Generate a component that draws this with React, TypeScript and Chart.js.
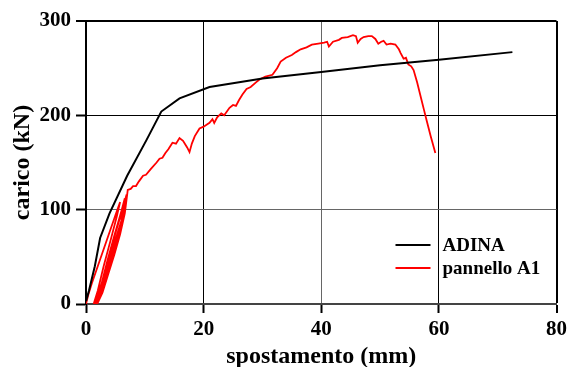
import React, { useEffect, useRef } from "react";
import { Chart, registerables } from "chart.js";

Chart.register(...registerables);

const xTicks = [0, 20, 40, 60, 80];
const yTicks = [0, 100, 200, 300];

const adinaX = [0, 0.5, 1.5, 2.4, 4, 7, 10.3, 12.8, 15.9, 21, 30, 40, 50, 60, 72.5];
const adinaY = [3, 14, 40, 70, 96, 136, 174, 204, 218, 230, 239, 246, 253, 259, 267];

const pannelloX = [
  0, 0.4, 1, 2, 3, 4, 5, 5.8,
  5.2, 4.2, 3, 2, 1.3,
  2, 3, 4, 5, 6, 6.6,
  6, 4.8, 3.6, 2.5, 1.6,
  2.4, 3.4, 4.4, 5.4, 6.4, 6.9,
  6.3, 5, 3.8, 2.7, 1.9,
  2.8, 3.8, 4.8, 5.8, 6.6, 7.1,
  7.6, 8, 8.5, 9, 9.7, 10.2, 11, 12, 12.5, 13, 13.5, 14, 14.7, 15.3, 15.9, 16.5, 17.2, 17.6,
  18, 18.5, 19.3, 20, 20.5, 21, 21.5, 21.8, 22.3, 23, 23.5, 24.4, 25, 25.5, 26, 26.6, 27.3, 28,
  28.9, 29.5, 30.5, 31.7, 32.5, 33.1, 34, 35, 35.7, 36.5, 37.5, 38.4, 39.5, 40.5, 41, 41.3, 42,
  43, 43.5, 44.5, 45.4, 45.9, 46.2, 46.7, 47.2, 48, 48.6, 49.2, 49.7, 50.2, 50.6, 51.1, 51.8,
  52.6, 53.2, 53.5, 54, 54.4, 54.8, 55.3, 55.7, 56.3, 56.9, 57.5, 57.9, 58.6, 59.4,
];
const pannelloY = [
  0, 10, 22, 40, 58, 76, 94, 108,
  92, 68, 40, 14, 0,
  10, 28, 48, 68, 88, 112,
  98, 72, 45, 18, 0,
  10, 30, 50, 70, 92, 116,
  102, 75, 48, 20, 0,
  12, 32, 52, 74, 96, 121,
  122, 125, 125, 130, 136, 137, 143, 150, 154, 155, 160, 164, 171, 170, 176, 173, 166, 161,
  170, 178, 186, 188, 190, 192, 196, 192, 198, 202, 200, 208, 211, 210, 216, 222, 228, 230,
  235, 238, 241, 243, 250, 257, 261, 264, 267, 270, 272, 275, 276, 277, 278, 273, 278,
  280, 282, 283, 285, 284, 277, 281, 283, 284, 284, 281, 276, 278, 279, 275, 276,
  275, 270, 266, 260, 261, 254, 252, 248, 235, 220, 205, 195, 178, 160,
];

const FONT = "'Liberation Serif', 'Times New Roman', serif";

const legendPlugin = {
  id: "insideLegend",
  afterDraw(chart: any) {
    const { ctx, chartArea } = chart;
    const x0 = chartArea.right - 161;
    const x1 = chartArea.right - 126;
    const rows = [chartArea.bottom - 59, chartArea.bottom - 36];
    ctx.save();
    chart.data.datasets.forEach((ds: any, i: number) => {
      const y = rows[i];
      ctx.strokeStyle = ds.borderColor;
      ctx.lineWidth = 2;
      ctx.beginPath();
      ctx.moveTo(x0, y);
      ctx.lineTo(x1, y);
      ctx.stroke();
      ctx.fillStyle = "#000";
      ctx.font = `bold 19px ${FONT}`;
      ctx.textBaseline = "middle";
      ctx.textAlign = "left";
      ctx.fillText(ds.label, x1 + 12, y + 1);
    });
    ctx.restore();
  },
};

export default function App() {
  const ref = useRef<HTMLCanvasElement | null>(null);
  useEffect(() => {
    if (!ref.current) return;
    const adina = adinaX.map((x, i) => ({ x, y: adinaY[i] }));
    const pannello = pannelloX.map((x, i) => ({ x, y: pannelloY[i] }));
    const chart = new Chart(ref.current, {
      type: "scatter",
      data: {
        datasets: [
          {
            label: "ADINA",
            data: adina,
            showLine: true,
            borderColor: "#000000",
            borderWidth: 2,
            pointRadius: 0,
            tension: 0,
          },
          {
            label: "pannello A1",
            data: pannello,
            showLine: true,
            borderColor: "#ff0000",
            borderWidth: 1.8,
            pointRadius: 0,
            tension: 0,
          },
        ],
      },
      plugins: [legendPlugin],
      options: {
        animation: false,
        responsive: false,
        maintainAspectRatio: false,
        layout: { padding: { top: 21, right: 12, left: 0, bottom: 0 } },
        plugins: { legend: { display: false }, tooltip: { enabled: false } },
        scales: {
          x: {
            type: "linear",
            min: 0,
            max: 80,
            afterBuildTicks: (s: any) => {
              s.ticks = xTicks.map((v) => ({ value: v }));
            },
            afterFit: (s: any) => {
              s.height = 63;
            },
            ticks: {
              color: "#000",
              font: { family: FONT, size: 21, weight: "bold" },
              padding: 4,
              maxRotation: 0,
            },
            grid: {
              color: (c: any) => (c.tick && c.tick.value === 40 ? "#666" : "#000"),
              lineWidth: (c: any) => (c.tick && c.tick.value === 80 ? 2 : 1),
              tickColor: "#000",
              tickWidth: 2,
              tickLength: 9,
            },
            border: { display: true, color: "#444", width: 2 },
            title: {
              display: true,
              text: "spostamento (mm)",
              color: "#000",
              font: { family: FONT, size: 24, weight: "bold" },
              padding: { top: 0, bottom: -4 },
            },
          },
          y: {
            type: "linear",
            min: 0,
            max: 300,
            afterBuildTicks: (s: any) => {
              s.ticks = yTicks.map((v) => ({ value: v }));
            },
            afterFit: (s: any) => {
              s.width = 86;
            },
            ticks: {
              color: "#000",
              font: { family: FONT, size: 21, weight: "bold" },
              padding: 5,
            },
            grid: {
              color: (c: any) => (c.tick && c.tick.value === 100 ? "#666" : "#000"),
              lineWidth: (c: any) => (c.tick && c.tick.value === 300 ? 2 : 1),
              tickColor: "#000",
              tickWidth: 2,
              tickLength: 10,
            },
            border: { display: true, color: "#000", width: 2 },
            title: {
              display: true,
              text: "carico (kN)",
              color: "#000",
              font: { family: FONT, size: 24, weight: "bold" },
              padding: { top: 8, bottom: 0 },
            },
          },
        },
      },
    });
    return () => chart.destroy();
  }, []);
  return (
    <div style={{ position: "fixed", left: 0, top: 0, width: 571, height: 367, background: "#fff" }}>
      <canvas ref={ref} width={571} height={367} style={{ width: 571, height: 367, display: "block" }} />
    </div>
  );
}
